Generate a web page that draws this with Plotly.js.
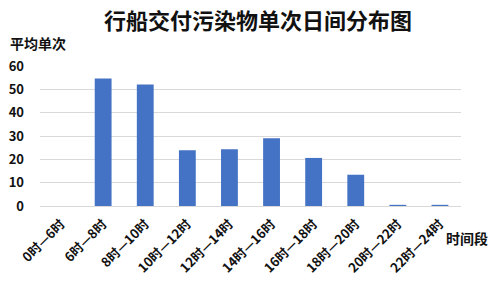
<!DOCTYPE html>
<html><head><meta charset="utf-8">
<script src="https://cdn.plot.ly/plotly-3.0.1.min.js"></script>
<style>html,body{margin:0;padding:0;background:#fff;}#c{width:500px;height:285px;}</style>
</head><body><div id="c"></div>
<script>
const categories = ["0时—6时","6时—8时","8时—10时","10时—12时","12时—14时","14时—16时","16时—18时","18时—20时","20时—22时","22时—24时"];
const values = [0, 54.6, 52.1, 23.9, 24.3, 29.0, 20.6, 13.4, 0.5, 0.5];
const yTicks = [0, 10, 20, 30, 40, 50, 60];
const titleText = "行船交付污染物单次日间分布图";
const yTitle = "平均单次";
const xTitle = "时间段";

const F = '"Noto Sans CJK SC", "Noto Sans", sans-serif';
Plotly.newPlot('c', [{
  type: 'bar', x: categories, y: values,
  marker: {color: '#4472C4', line: {width: 0}},
  hoverinfo: 'none'
}], {
  width: 500, height: 285,
  margin: {l: 40, r: 39, t: 66, b: 79},
  paper_bgcolor: '#fff', plot_bgcolor: '#fff',
  bargap: 0.6,
  title: {text: titleText, x: 0.516, xanchor: 'center', y: 0.925, yanchor: 'middle',
    font: {family: F, size: 22, color: '#111', weight: 'bold'}},
  xaxis: {type: 'category', tickangle: -45, showgrid: false, zeroline: false, showline: false,
    ticks: '', ticklabelstandoff: 7, tickfont: {family: F, size: 13, color: '#111', weight: 'bold'}},
  yaxis: {range: [0, 60], tickvals: yTicks, showgrid: true, gridcolor: '#d9d9d9', gridwidth: 1,
    zeroline: true, zerolinecolor: '#d9d9d9', showline: false, ticks: '', ticklabelstandoff: 15,
    tickfont: {family: F, size: 13, color: '#111', weight: 'bold'}},
  annotations: [
    {text: yTitle, xref: 'paper', yref: 'paper', x: -0.075, y: 1.165, xanchor: 'left', yanchor: 'middle',
     showarrow: false, font: {family: F, size: 14, color: '#111', weight: 'bold'}},
    {text: xTitle, xref: 'paper', yref: 'paper', x: 1.07, y: -0.23, xanchor: 'right', yanchor: 'middle',
     showarrow: false, font: {family: F, size: 14, color: '#111', weight: 'bold'}}
  ],
  showlegend: false
}, {displayModeBar: false, staticPlot: true});
</script></body></html>
